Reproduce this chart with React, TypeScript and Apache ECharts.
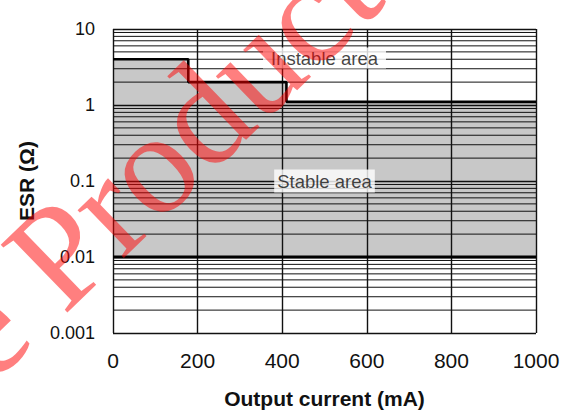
import React, { useEffect, useRef } from "react";
import * as echarts from "echarts";

// ---- data ----
const xTicks = [0, 200, 400, 600, 800, 1000];
const yMin = 0.001;
const yMax = 10;
const yMinorLines = [
  0.002, 0.003, 0.004, 0.005, 0.006, 0.007, 0.008, 0.009,
  0.02, 0.03, 0.04, 0.05, 0.06, 0.07, 0.08, 0.09,
  0.2, 0.3, 0.4, 0.5, 0.6, 0.7, 0.8, 0.9,
  2, 3, 4, 5, 6, 7, 8, 9,
];
// upper stability limit (step boundary)
const boundaryCurrent = [0, 178, 410, 1000];
const boundaryESR = [4, 2, 1.1, 1.1];
// lower stability limit
const minESRCurrent = [0, 1000];
const minESR = [0.01, 0.01];
// area labels
const areaLabelNames = ["Instable area", "Stable area"];
const areaLabelX = [500, 500];
const areaLabelY = [4.15, 0.1];
const watermarkText = ["Obsolete", "Product"];

export default function App() {
  const ref = useRef<HTMLDivElement>(null);

  useEffect(() => {
    if (!ref.current) return;
    const chart = echarts.init(ref.current, null, { renderer: "svg" });
    const font = "'Liberation Sans', Arial, Helvetica, sans-serif";
    const boundaryData = boundaryCurrent.map((x, i) => [x, boundaryESR[i]]);
    const minData = minESRCurrent.map((x, i) => [x, minESR[i]]);
    const paddings = [[1, 8, 1, 8], [2, 3, 2, 3]];
    const labelData = areaLabelNames.map((n, i) => ({
      value: [areaLabelX[i], areaLabelY[i], n],
      label: { padding: paddings[i] },
    }));
    const xLo = xTicks[0];
    const xHi = xTicks[xTicks.length - 1];

    const wmSize = 145;
    chart.setOption({
      animation: false,
      backgroundColor: "#fff",
      grid: {
        left: 113,
        right: 36,
        top: 29,
        bottom: 84,
        containLabel: false,
        outerBoundsMode: "none",
      },
      xAxis: {
        type: "value",
        min: xLo,
        max: xHi,
        interval: 200,
        z: 3,
        axisLine: { show: false },
        axisTick: { show: false },
        axisLabel: {
          fontSize: 21,
          color: "#111",
          fontFamily: font,
          margin: 17,
          formatter: (v: number) => String(v),
        },
        splitLine: { show: true, lineStyle: { color: "#111", width: 1.4 } },
        name: "Output current (mA)",
        nameLocation: "middle",
        nameGap: 55,
        nameTextStyle: { fontSize: 21, fontWeight: "bold", color: "#111", fontFamily: font },
      },
      yAxis: {
        type: "log",
        logBase: 10,
        min: yMin,
        max: yMax,
        z: 3,
        axisLine: { show: false },
        axisTick: { show: false },
        axisLabel: {
          fontSize: 18,
          color: "#111",
          fontFamily: font,
          margin: 18,
          formatter: (v: number) => String(Number(v.toPrecision(3))),
        },
        splitLine: { show: true, lineStyle: { color: "#111", width: 1.3 } },
        name: "ESR (Ω)",
        nameLocation: "middle",
        nameGap: 76,
        nameRotate: 90,
        nameTextStyle: { fontSize: 21, fontWeight: "bold", color: "#111", fontFamily: font },
      },
      series: [
        {
          name: "stableArea",
          type: "custom",
          data: boundaryData,
          z: 1,
          silent: true,
          renderItem: (params: any, api: any) => {
            if (params.dataIndex !== 0) return null;
            const pts: number[][] = [];
            for (let i = 0; i < boundaryCurrent.length; i++) {
              pts.push(api.coord([boundaryCurrent[i], boundaryESR[i]]));
              if (i < boundaryCurrent.length - 1) {
                pts.push(api.coord([boundaryCurrent[i + 1], boundaryESR[i]]));
              }
            }
            pts.push(api.coord([minESRCurrent[1], minESR[1]]));
            pts.push(api.coord([minESRCurrent[0], minESR[0]]));
            return {
              type: "polygon",
              shape: { points: pts },
              style: { fill: "#c8c8c8", stroke: "none" },
            };
          },
        },
        {
          name: "minorGrid",
          type: "custom",
          data: yMinorLines,
          z: 4,
          silent: true,
          renderItem: (params: any, api: any) => {
            const v = yMinorLines[params.dataIndex];
            const p1 = api.coord([xLo, v]);
            const p2 = api.coord([xHi, v]);
            return {
              type: "line",
              shape: { x1: p1[0], y1: p1[1], x2: p2[0], y2: p2[1] },
              style: { stroke: "#111", lineWidth: 1 },
            };
          },
        },
        {
          name: "upperLimit",
          type: "line",
          step: "end",
          data: boundaryData,
          symbol: "none",
          lineStyle: { color: "#000", width: 2.6 },
          z: 6,
          silent: true,
        },
        {
          name: "lowerLimit",
          type: "line",
          data: minData,
          symbol: "none",
          lineStyle: { color: "#000", width: 3 },
          z: 6,
          silent: true,
        },
        {
          name: "labels",
          type: "scatter",
          data: labelData,
          symbolSize: 1,
          itemStyle: { color: "rgba(0,0,0,0)" },
          z: 20,
          silent: true,
          label: {
            show: true,
            position: "inside",
            formatter: (p: any) => p.value[2],
            fontSize: 18.5,
            color: "#111",
            fontFamily: font,
            backgroundColor: "#fff",
          },
        },
      ],
      graphic: [
        {
          type: "group",
          x: 60,
          y: 312,
          rotation: (44 * Math.PI) / 180,
          z: 100,
          silent: true,
          children: [
            {
              type: "text",
              x: 0,
              y: -0.3 * wmSize,
              z: 100,
              style: {
                text: watermarkText[1],
                fontSize: wmSize,
                fontFamily: "'Liberation Serif', 'Times New Roman', serif",
                fill: "rgba(255,0,0,0.5)",
                align: "left",
                verticalAlign: "middle",
              },
            },
            {
              type: "text",
              x: -0.25 * wmSize,
              y: -0.3 * wmSize,
              z: 100,
              style: {
                text: watermarkText[0],
                fontSize: wmSize,
                fontFamily: "'Liberation Serif', 'Times New Roman', serif",
                fill: "rgba(255,0,0,0.5)",
                align: "right",
                verticalAlign: "middle",
              },
            },
          ],
        },
      ],
    });
    return () => chart.dispose();
  }, []);

  return (
    <div
      ref={ref}
      style={{ position: "fixed", left: 0, top: 0, width: 572, height: 417 }}
    />
  );
}
